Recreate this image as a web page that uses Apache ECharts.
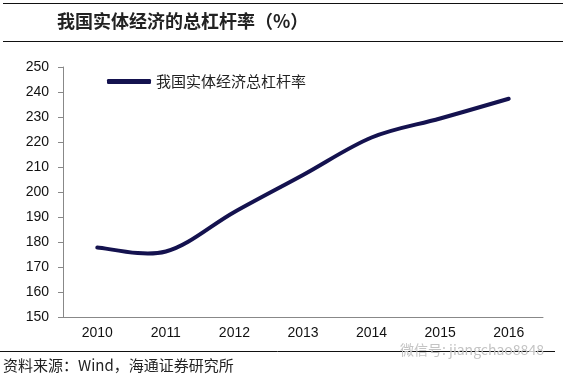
<!DOCTYPE html>
<html>
<head>
<meta charset="utf-8">
<script src="https://cdn.jsdelivr.net/npm/echarts@6/dist/echarts.min.js"></script>
<style>
  html, body { margin: 0; padding: 0; background: #fff; }
  #main { width: 566px; height: 378px; }
</style>
</head>
<body>
<div id="main"></div>
<script>
const years = ['2010', '2011', '2012', '2013', '2014', '2015', '2016'];
const leverage = [177.8, 176.2, 192.0, 206.8, 221.8, 229.4, 237.3];
const seriesName = '我国实体经济总杠杆率';

const chart = echarts.init(document.getElementById('main'));

const cjk = '"Noto Sans CJK SC", "Noto Sans", sans-serif';
const latin = '"Liberation Sans", Arial, sans-serif';
const navy = '#14124f';

// Excel-like smoothed line (Catmull-Rom style bezier), points via axis coords
function renderSmooth(params, api) {
  if (params.dataIndex !== 0) return;
  const pts = leverage.map((v, i) => api.coord([i, v]));
  let d = 'M' + pts[0][0] + ' ' + pts[0][1];
  for (let i = 0; i < pts.length - 1; i++) {
    const p0 = pts[Math.max(i - 1, 0)];
    const p1 = pts[i];
    const p2 = pts[i + 1];
    const p3 = pts[Math.min(i + 2, pts.length - 1)];
    const c1x = p1[0] + (p2[0] - p0[0]) / 6;
    const c1y = p1[1] + (p2[1] - p0[1]) / 6;
    const c2x = p2[0] - (p3[0] - p1[0]) / 6;
    const c2y = p2[1] - (p3[1] - p1[1]) / 6;
    d += ' C' + c1x + ' ' + c1y + ' ' + c2x + ' ' + c2y + ' ' + p2[0] + ' ' + p2[1];
  }
  return {
    type: 'path',
    shape: { pathData: d },
    style: { stroke: navy, lineWidth: 4, fill: null, lineCap: 'round', lineJoin: 'round' }
  };
}

const option = {
  animation: false,
  backgroundColor: '#fff',
  grid: { left: 63, right: 23, top: 67, bottom: 61 },
  legend: {
    left: 102,
    top: 69,
    itemWidth: 44,
    itemHeight: 5,
    icon: 'roundRect',
    textStyle: { fontFamily: cjk, fontSize: 15, color: '#222' },
    data: [seriesName]
  },
  xAxis: {
    type: 'category',
    data: years,
    boundaryGap: true,
    axisLine: { lineStyle: { color: '#888', width: 1 } },
    axisTick: { length: 4, lineStyle: { color: '#888' } },
    axisLabel: { margin: 9, fontFamily: latin, fontSize: 14, color: '#111' }
  },
  yAxis: {
    type: 'value',
    min: 150,
    max: 250,
    interval: 10,
    splitLine: { show: false },
    axisLine: { show: true, lineStyle: { color: '#888', width: 1 } },
    axisTick: { show: true, length: 5, lineStyle: { color: '#888' } },
    axisLabel: { margin: 14, fontFamily: latin, fontSize: 14, color: '#111' }
  },
  series: [{
    name: seriesName,
    type: 'custom',
    renderItem: renderSmooth,
    data: leverage.map((v, i) => [i, v]),
    encode: { x: 0, y: 1 },
    itemStyle: { color: navy }
  }],
  graphic: [
    { type: 'line', shape: { x1: 3, y1: 3.5, x2: 563, y2: 3.5 }, style: { stroke: '#111', lineWidth: 1 } },
    { type: 'line', shape: { x1: 3, y1: 41.5, x2: 563, y2: 41.5 }, style: { stroke: '#111', lineWidth: 1 } },
    { type: 'text', left: 57, top: 12, style: { text: '我国实体经济的总杠杆率（%）', font: 'bold 18px ' + cjk, fill: '#222' } },
    { type: 'line', shape: { x1: 0, y1: 351.5, x2: 555, y2: 351.5 }, style: { stroke: '#111', lineWidth: 1 } },
    { type: 'text', left: 3, top: 358, style: { text: '资料来源：Wind，海通证券研究所', font: '15px ' + cjk, fill: '#222' } },
    { type: 'text', left: 400, top: 343, style: { text: '微信号: jiangchao8848', font: '14px ' + cjk, fill: '#c4c4c4' } }
  ]
};

chart.setOption(option);
</script>
</body>
</html>
